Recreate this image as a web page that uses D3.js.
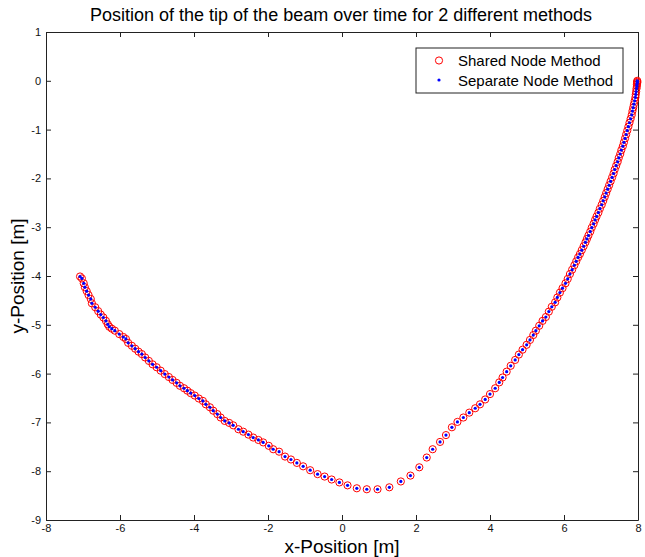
<!DOCTYPE html>
<html>
<head>
<meta charset="utf-8">
<script src="https://cdn.jsdelivr.net/npm/d3@7"></script>
<style>
  body { margin: 0; background: #fff; }
  text { font-family: "Liberation Sans", Arial, sans-serif; }
</style>
</head>
<body>
<script>
// Tip position [x, y] in metres
var tipShared = [
  [-7.08,-4.01],[-7.03,-4.05],[-6.98,-4.15],[-6.95,-4.23],[-6.90,-4.31],[-6.85,-4.39],
  [-6.79,-4.47],[-6.76,-4.56],[-6.67,-4.64],[-6.59,-4.72],[-6.52,-4.79],[-6.45,-4.85],
  [-6.38,-4.92],[-6.33,-4.99],[-6.29,-5.04],[-6.22,-5.08],[-6.14,-5.12],[-6.02,-5.19],
  [-5.91,-5.25],[-5.84,-5.29],[-5.78,-5.37],[-5.68,-5.43],[-5.59,-5.49],[-5.50,-5.55],
  [-5.41,-5.60],[-5.32,-5.67],[-5.22,-5.74],[-5.12,-5.81],[-5.01,-5.87],[-4.90,-5.94],
  [-4.79,-6.01],[-4.68,-6.07],[-4.58,-6.13],[-4.47,-6.19],[-4.38,-6.25],[-4.27,-6.30],
  [-4.18,-6.35],[-4.09,-6.40],[-3.98,-6.45],[-3.87,-6.51],[-3.76,-6.56],[-3.68,-6.63],
  [-3.57,-6.69],[-3.48,-6.76],[-3.37,-6.83],[-3.28,-6.90],[-3.17,-6.97],[-3.05,-7.01],
  [-2.94,-7.06],[-2.80,-7.14],[-2.67,-7.19],[-2.53,-7.25],[-2.40,-7.31],[-2.26,-7.36],
  [-2.13,-7.41],[-1.98,-7.48],[-1.86,-7.55],[-1.70,-7.60],[-1.54,-7.70],[-1.38,-7.76],
  [-1.22,-7.83],[-1.05,-7.90],[-0.86,-7.98],[-0.66,-8.06],[-0.47,-8.11],[-0.28,-8.17],
  [-0.07,-8.23],[0.15,-8.29],[0.40,-8.35],[0.67,-8.37],[0.96,-8.37],[1.28,-8.33],
  [1.59,-8.21],[1.85,-8.09],[2.09,-7.92],[2.29,-7.72],[2.45,-7.55],[2.65,-7.40],
  [2.81,-7.26],[2.97,-7.10],[3.12,-6.99],[3.28,-6.90],[3.44,-6.80],[3.60,-6.71],
  [3.73,-6.63],[3.87,-6.53],[4.00,-6.42],[4.14,-6.30],[4.25,-6.18],[4.34,-6.08],
  [4.45,-5.96],[4.56,-5.84],[4.68,-5.72],[4.78,-5.61],[4.88,-5.51],[4.99,-5.41],
  [5.08,-5.31],[5.17,-5.21],[5.24,-5.12],[5.33,-5.02],[5.42,-4.92],[5.51,-4.84],
  [5.59,-4.73],[5.67,-4.63],[5.76,-4.54],[5.82,-4.44],[5.89,-4.34],[5.96,-4.25],
  [6.04,-4.15],[6.10,-4.06],[6.16,-3.96],[6.22,-3.87],[6.28,-3.78],[6.33,-3.70],
  [6.38,-3.62],[6.43,-3.55],[6.48,-3.47],[6.53,-3.39],[6.58,-3.31],[6.62,-3.24],
  [6.66,-3.17],[6.71,-3.09],[6.75,-3.01],[6.80,-2.93],[6.84,-2.85],[6.88,-2.78],
  [6.93,-2.70],[6.97,-2.62],[7.02,-2.54],[7.06,-2.46],[7.10,-2.38],[7.14,-2.30],
  [7.18,-2.22],[7.22,-2.14],[7.26,-2.06],[7.30,-1.98],[7.34,-1.90],[7.37,-1.82],
  [7.41,-1.74],[7.45,-1.66],[7.48,-1.58],[7.52,-1.50],[7.55,-1.42],[7.59,-1.34],
  [7.62,-1.26],[7.65,-1.18],[7.68,-1.10],[7.71,-1.02],[7.74,-0.94],[7.77,-0.86],
  [7.80,-0.78],[7.83,-0.70],[7.85,-0.62],[7.87,-0.55],[7.89,-0.48],[7.91,-0.41],
  [7.93,-0.34],[7.94,-0.28],[7.95,-0.22],[7.96,-0.16],[7.97,-0.11],[7.97,-0.07],
  [7.98,-0.04],[7.98,-0.02],[7.98,0.00]
];
// the two methods coincide in the picture
var tipSeparate = tipShared.map(function(d){ return [d[0], d[1]]; });

var xTicks = [-8,-6,-4,-2,0,2,4,6,8];
var yTicks = [1,0,-1,-2,-3,-4,-5,-6,-7,-8,-9];
var legendLabels = ["Shared Node Method", "Separate Node Method"];

var W = 645, H = 557;
var plotL = 46, plotR = 638, plotT = 32, plotB = 520;

var svg = d3.select("body").append("svg")
  .attr("width", W).attr("height", H)
  .style("display", "block")
  .style("background-color", "#fff");

var x = d3.scaleLinear().domain([-8, 8]).range([plotL, plotR]);
var y = d3.scaleLinear().domain([-9, 1]).range([plotB, plotT]);
var plain = function(d){ return String(d); };   // hyphen minus, like the original

// axes, ticks inward on all four sides
svg.append("g").attr("transform", "translate(0," + plotB + ")")
  .call(d3.axisBottom(x).tickValues(xTicks).tickSizeInner(-5).tickSizeOuter(0)
    .tickPadding(4).tickFormat(plain));
svg.append("g").attr("transform", "translate(0," + plotT + ")")
  .call(d3.axisTop(x).tickValues(xTicks).tickSizeInner(-5).tickSizeOuter(0).tickFormat(""));
svg.append("g").attr("transform", "translate(" + plotL + ",0)")
  .call(d3.axisLeft(y).tickValues(yTicks).tickSizeInner(-5).tickSizeOuter(0)
    .tickPadding(5).tickFormat(plain));
svg.append("g").attr("transform", "translate(" + plotR + ",0)")
  .call(d3.axisRight(y).tickValues(yTicks).tickSizeInner(-5).tickSizeOuter(0).tickFormat(""));

svg.selectAll(".domain, .tick line").attr("stroke", "#222");
svg.selectAll(".tick text")
  .style("font-family", "'Liberation Sans Narrow', 'Liberation Sans', Arial, sans-serif")
  .style("font-size", "11px").attr("fill", "#111");

// markers
svg.append("g").selectAll("circle")
  .data(tipShared).enter().append("circle")
  .attr("cx", function(d){ return x(d[0]); })
  .attr("cy", function(d){ return y(d[1]); })
  .attr("r", 3.6)
  .attr("fill", "none")
  .attr("stroke", "#ff0000")
  .attr("stroke-width", 1);

svg.append("g").selectAll("circle")
  .data(tipSeparate).enter().append("circle")
  .attr("cx", function(d){ return x(d[0]); })
  .attr("cy", function(d){ return y(d[1]); })
  .attr("r", 1.6)
  .attr("fill", "#0000ff");

// title and axis labels
svg.append("text").attr("x", (plotL + plotR) / 2 - 1).attr("y", 21)
  .attr("text-anchor", "middle").style("font-size", "18px")
  .text("Position of the tip of the beam over time for 2 different methods");
svg.append("text").attr("x", (plotL + plotR) / 2).attr("y", 553)
  .attr("text-anchor", "middle").style("font-size", "19px")
  .text("x-Position [m]");
svg.append("text")
  .attr("transform", "translate(24," + ((plotT + plotB) / 2) + ") rotate(-90)")
  .attr("text-anchor", "middle").style("font-size", "19px")
  .text("y-Position [m]");

// legend
var lg = svg.append("g").attr("transform", "translate(416,48)");
lg.append("rect").attr("width", 207).attr("height", 45)
  .attr("fill", "#fff").attr("stroke", "#222");
lg.append("circle").attr("cx", 23).attr("cy", 12.5).attr("r", 3.6)
  .attr("fill", "none").attr("stroke", "#ff0000");
lg.append("circle").attr("cx", 23).attr("cy", 32).attr("r", 1.6)
  .attr("fill", "#0000ff");
lg.selectAll("text.lab").data(legendLabels).enter().append("text")
  .attr("class", "lab")
  .attr("x", 42)
  .attr("y", function(d, i){ return 18 + i * 19.5; })
  .style("font-size", "15px")
  .text(function(d){ return d; });
</script>
</body>
</html>
